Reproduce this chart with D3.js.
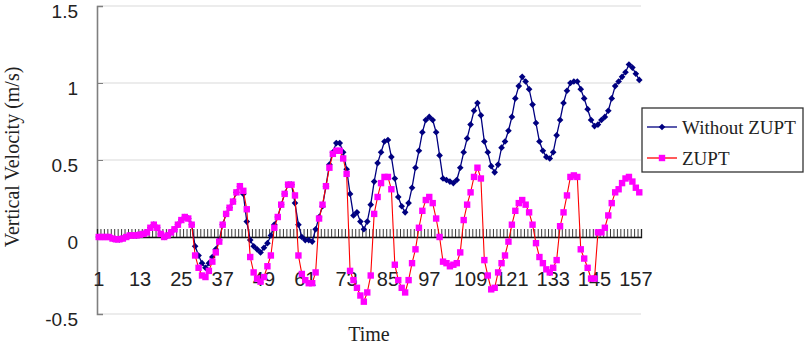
<!DOCTYPE html>
<html>
<head>
<meta charset="utf-8">
<script src="https://cdn.jsdelivr.net/npm/d3@7"></script>
<style>
  html, body { margin: 0; padding: 0; background: #fff; }
  svg { display: block; font-family: "Liberation Serif", "Times New Roman", serif; }
</style>
</head>
<body>
<svg id="chart" width="812" height="347"></svg>
<script>
// values, one per time step (158 steps)
const withoutZupt = [
  0, 0, 0, 0, -0.01, -0.015, -0.015, -0.01, 0, 0.01,
  0.01, 0.01, 0.015, 0.02, 0.03, 0.06, 0.08, 0.06, 0.02, 0,
  0.01, 0.03, 0.05, 0.08, 0.11, 0.13, 0.12, 0.08,
  -0.06, -0.12, -0.17, -0.2, -0.17, -0.13, -0.08, -0.02,
  0.08, 0.15, 0.19, 0.23, 0.29, 0.33, 0.28,
  0.1, -0.02, -0.06, -0.08, -0.1, -0.07, -0.04, 0.01, 0.08,
  0.13, 0.21, 0.28, 0.34, 0.34,
  0.22, 0.08, 0, -0.02, -0.02, -0.03, 0.05, 0.13, 0.2, 0.33,
  0.47, 0.55, 0.61, 0.61, 0.55, 0.44, 0.28, 0.14, 0.16, 0.1,
  0.05, 0.1, 0.21, 0.36, 0.48, 0.55, 0.62, 0.63, 0.52, 0.38,
  0.26, 0.2, 0.16, 0.22, 0.32, 0.45, 0.56, 0.68, 0.76, 0.78,
  0.76, 0.68, 0.53,
  0.38, 0.37, 0.36, 0.35, 0.37, 0.45, 0.55, 0.64, 0.73, 0.82, 0.87, 0.79,
  0.62, 0.55, 0.46, 0.42, 0.47, 0.58, 0.62, 0.69, 0.78, 0.9,
  0.98, 1.04, 1.01, 0.96, 0.86,
  0.74, 0.62, 0.56, 0.52, 0.51, 0.55, 0.66, 0.76, 0.87, 0.95,
  1.0, 1.01, 1.01, 0.96, 0.9, 0.83, 0.76, 0.72, 0.73, 0.76,
  0.78, 0.82, 0.9, 0.98, 1.01, 1.04, 1.07, 1.12, 1.1, 1.06, 1.02
];

const zupt = [
  0, 0, 0, 0, -0.01, -0.015, -0.015, -0.01, 0, 0.01,
  0.01, 0.01, 0.015, 0.02, 0.03, 0.06, 0.08, 0.06, 0.02, 0,
  0.01, 0.03, 0.05, 0.08, 0.11, 0.13, 0.12, 0.08,
  -0.12, -0.2, -0.25, -0.26, -0.22, -0.16, -0.1, -0.03,
  0.08, 0.15, 0.19, 0.23, 0.29, 0.33, 0.3, 0.18,
  -0.13, -0.23, -0.27, -0.29, -0.26, -0.19, -0.12, 0.06,
  0.13, 0.21, 0.28, 0.34, 0.34, 0.27,
  -0.12, -0.24, -0.28, -0.3, -0.3, -0.23,
  0.12, 0.21, 0.33, 0.45, 0.54, 0.56, 0.56, 0.51, 0.41,
  -0.22, -0.28, -0.33, -0.38, -0.42, -0.36, -0.25,
  0.15, 0.26, 0.35, 0.39, 0.39, 0.31,
  -0.18, -0.28, -0.33, -0.36, -0.28, -0.17, -0.08,
  0.06, 0.17, 0.24, 0.26, 0.22, 0.12, 0,
  -0.16, -0.17, -0.19, -0.18,
  -0.17, -0.1, 0.11, 0.21, 0.29, 0.39, 0.45, 0.38,
  -0.15, -0.25, -0.34, -0.33, -0.23, -0.17, -0.12, -0.03,
  0.08, 0.17, 0.22, 0.24, 0.21, 0.16, 0.08,
  -0.04, -0.13, -0.17, -0.21, -0.23, -0.2, -0.15,
  0.07, 0.16, 0.27, 0.39, 0.4, 0.39,
  -0.08, -0.14, -0.2, -0.27, -0.27,
  0.03, 0.03, 0.06, 0.14, 0.22, 0.29, 0.31, 0.35, 0.38, 0.39,
  0.36, 0.32, 0.29
];

const yTicks = [-0.5, 0, 0.5, 1, 1.5];
const xTickLabels = [1, 13, 25, 37, 49, 61, 73, 85, 97, 109, 121, 133, 145, 157];
const seriesNames = ['Without ZUPT', 'ZUPT'];

const svg = d3.select('#chart');
const plotLeft = 97, plotTop = 6;
const innerW = 544, innerH = 308;

const steps = d3.range(1, withoutZupt.length + 1);
const x = d3.scaleBand().domain(steps).range([0, innerW]);
const cx = s => x(s) + x.bandwidth() / 2;
const edge = d3.scaleLinear().domain([0, steps.length]).range([0, innerW]);
const y = d3.scaleLinear().domain([-0.5, 1.5]).range([innerH, 0]);

const g = svg.append('g').attr('transform', `translate(${plotLeft},${plotTop})`);

// gridlines
g.append('g').selectAll('line')
  .data(yTicks)
  .join('line')
  .attr('x1', 0).attr('x2', innerW)
  .attr('y1', d => y(d)).attr('y2', d => y(d))
  .attr('stroke', '#d9d9d9').attr('stroke-width', 1.2);

// y axis, ticks pointing inward
const yAxis = g.append('g')
  .call(d3.axisLeft(y).tickValues(yTicks).tickSize(-6).tickPadding(19).tickFormat(d => String(d)));
yAxis.select('.domain').attr('stroke', '#7f7f7f').attr('stroke-width', 1.6);
yAxis.selectAll('.tick line').attr('stroke', '#7f7f7f');
yAxis.selectAll('text').attr('font-size', 19).attr('fill', '#222').attr('dy', '0.58em');

// category axis at zero, one tick per step boundary
const xAxis = g.append('g')
  .attr('transform', `translate(0,${y(0)})`)
  .call(d3.axisTop(edge).tickValues(d3.range(0, steps.length + 1)).tickSize(8).tickFormat(''));
xAxis.select('.domain').attr('stroke', '#111').attr('stroke-width', 1.3);
xAxis.selectAll('.tick line').attr('stroke', '#222').attr('stroke-width', 0.9);

// labels sit lower, between axis and bottom
const xLab = g.append('g')
  .attr('transform', `translate(0,${266})`)
  .call(d3.axisBottom(x).tickValues(xTickLabels).tickSize(0).tickPadding(0));
xLab.select('.domain').remove();
xLab.selectAll('text').attr('font-size', 20).attr('fill', '#222');

const line = d3.line().x((d, i) => cx(steps[i])).y(d => y(d));

// Without ZUPT
g.append('path')
  .datum(withoutZupt)
  .attr('fill', 'none').attr('stroke', '#000080').attr('stroke-width', 1.3)
  .attr('d', line);
g.append('g').selectAll('path')
  .data(withoutZupt)
  .join('path')
  .attr('d', d3.symbol(d3.symbolSquare, 22)())
  .attr('transform', (d, i) => `translate(${cx(steps[i])},${y(d)}) rotate(45)`)
  .attr('fill', '#000080');

// ZUPT
g.append('path')
  .datum(zupt)
  .attr('fill', 'none').attr('stroke', '#ff0000').attr('stroke-width', 1.1)
  .attr('d', line);
g.append('g').selectAll('rect')
  .data(zupt)
  .join('rect')
  .attr('x', (d, i) => cx(steps[i]) - 3.2)
  .attr('y', d => y(d) - 3.2)
  .attr('width', 6.4).attr('height', 6.4)
  .attr('fill', '#ff00ff');

// axis titles
svg.append('text')
  .attr('transform', 'translate(19,157) rotate(-90)')
  .attr('text-anchor', 'middle')
  .attr('font-size', 20).attr('fill', '#222')
  .text('Vertical Velocity (m/s)');
svg.append('text')
  .attr('x', 369).attr('y', 341)
  .attr('text-anchor', 'middle')
  .attr('font-size', 20).attr('fill', '#222')
  .text('Time');

// legend
const lg = svg.append('g').attr('transform', 'translate(642,108)');
lg.append('rect')
  .attr('width', 161).attr('height', 64)
  .attr('fill', '#fff').attr('stroke', '#333').attr('stroke-width', 1.3);
const rows = [
  {name: seriesNames[0], line: '#000080', mark: '#000080', shape: 'diamond'},
  {name: seriesNames[1], line: '#ff0000', mark: '#ff00ff', shape: 'square'}
];
const item = lg.selectAll('g.item')
  .data(rows)
  .join('g')
  .attr('class', 'item')
  .attr('transform', (d, i) => `translate(0,${19 + i * 31})`);
item.append('line')
  .attr('x1', 5).attr('x2', 35)
  .attr('stroke', d => d.line).attr('stroke-width', 1.3);
item.append('path')
  .attr('d', d => d.shape === 'diamond'
    ? d3.symbol(d3.symbolSquare, 22)()
    : d3.symbol(d3.symbolSquare, 41)())
  .attr('transform', d => `translate(20,0)${d.shape === 'diamond' ? ' rotate(45)' : ''}`)
  .attr('fill', d => d.mark);
item.append('text')
  .attr('x', 40).attr('dy', '0.35em')
  .attr('font-size', 19).attr('fill', '#222')
  .text(d => d.name);
</script>
</body>
</html>
